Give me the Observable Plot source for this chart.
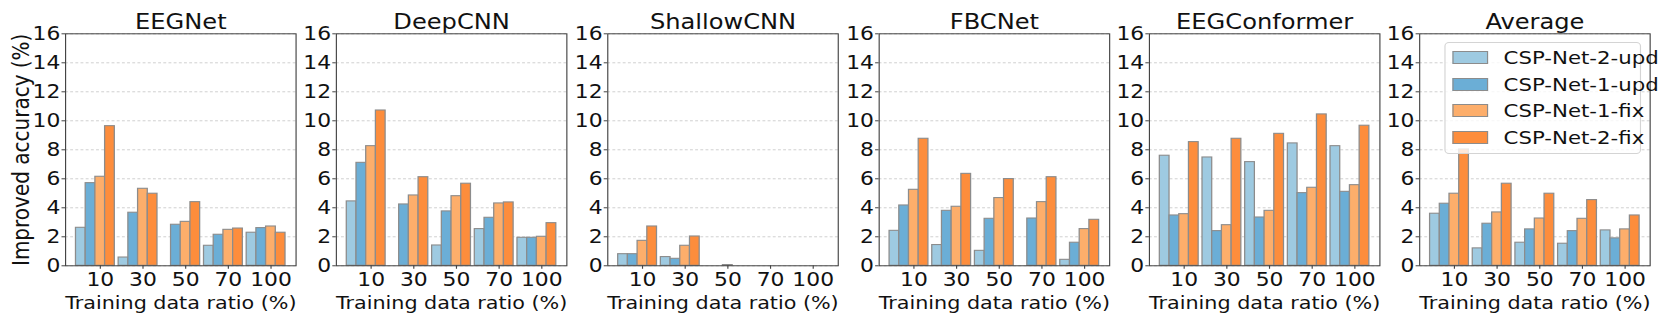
<!DOCTYPE html>
<html><head>
<meta charset="utf-8">
<script src="https://cdn.jsdelivr.net/npm/d3@7"></script>
<script src="https://cdn.jsdelivr.net/npm/@observablehq/plot@0.6"></script>
<style>
body{margin:0;background:#fff;overflow:hidden;}
#chart{position:relative;height:325px;font-family:"DejaVu Sans",sans-serif;transform-origin:0 0;}
#chart svg{position:absolute;top:0;}
.legend{position:absolute;background:rgba(255,255,255,0.8);border:1px solid #d4d4d4;border-radius:4px;box-sizing:border-box;font-family:"DejaVu Sans",sans-serif;font-size:18.5px;color:#111;}
.legend .row{position:absolute;left:0;height:22px;display:flex;align-items:center;white-space:nowrap;}
.legend .sw{height:13px;box-sizing:border-box;border:1.2px solid #8c8c8c;flex:none;}
</style></head><body><div id="chart"></div>
<script>
const ratios = ["10", "30", "50", "70", "100"];
const methods = ["CSP-Net-2-upd", "CSP-Net-1-upd", "CSP-Net-1-fix", "CSP-Net-2-fix"];
const colors = ["#9ecae1", "#6baed6", "#fdae6b", "#fd8d3c"];
const models = ["EEGNet", "DeepCNN", "ShallowCNN", "FBCNet", "EEGConformer", "Average"];
// values per model: one row per method, one column per ratio
const eegnet = [
  [2.62, 0.57, 0, 1.38, 2.28],
  [5.70, 3.66, 2.83, 2.14, 2.60],
  [6.14, 5.31, 3.03, 2.48, 2.71],
  [9.63, 4.97, 4.39, 2.57, 2.28]
];
const deepcnn = [
  [4.44, 0, 1.40, 2.53, 1.93],
  [7.10, 4.23, 3.75, 3.31, 1.93],
  [8.25, 4.85, 4.80, 4.30, 2.00],
  [10.71, 6.11, 5.66, 4.37, 2.94]
];
const shallowcnn = [
  [0.80, 0.60, 0, 0, 0],
  [0.80, 0.48, 0, 0, 0],
  [1.72, 1.38, 0.05, 0, 0],
  [2.71, 2.02, 0, 0, 0]
];
const fbcnet = [
  [2.41, 1.43, 1.03, 0, 0.41],
  [4.16, 3.79, 3.24, 3.26, 1.59],
  [5.24, 4.07, 4.67, 4.39, 2.53],
  [8.76, 6.34, 5.98, 6.11, 3.17]
];
const eegconformer = [
  [7.59, 7.47, 7.15, 8.44, 8.25],
  [3.47, 2.39, 3.33, 5.01, 5.10],
  [3.56, 2.80, 3.79, 5.38, 5.56],
  [8.53, 8.76, 9.10, 10.44, 9.66]
];
const average = [
  [3.59, 1.20, 1.59, 1.52, 2.44],
  [4.28, 2.90, 2.51, 2.39, 1.89],
  [4.97, 3.68, 3.26, 3.24, 2.51],
  [8.02, 5.66, 4.97, 4.53, 3.47]
];
const yTicks = [0, 2, 4, 6, 8, 10, 12, 14, 16];
const allValues = [eegnet, deepcnn, shallowcnn, fbcnet, eegconformer, average];

const S = 1.15;                         // horizontal stretch of the whole figure
const W = 0.2275;                       // bar width in group units
const span = 4 + 4 * W;
const m = 0.05 * span;
const xDomain = [-2.5 * W - m, 4 + 1.5 * W + m];

const chart = document.getElementById("chart");
chart.style.width = (1661 / S) + "px";
chart.style.transform = `scaleX(${S})`;
const plotLefts = [65, 336, 607.3, 878.3, 1149.3, 1419.5].map(v => v / S);
const plotW = 230.5 / S;

models.forEach((name, k) => {
  const vals = allValues[k];
  const rows = [];
  vals.forEach((series, si) => series.forEach((v, gi) => {
    if (v > 0) rows.push({si, gi, v, method: methods[si]});
  }));
  const ml = k === 0 ? plotLefts[0] : 42;
  const mr = 15;
  const marks = [
    Plot.gridY(yTicks, {stroke: "#c8c8c8", strokeOpacity: 1, strokeWidth: 0.8, strokeDasharray: "2.5,2"}),
    Plot.rect(rows, {
      x1: d => d.gi + (d.si - 2.5) * W,
      x2: d => d.gi + (d.si - 1.5) * W,
      y1: 0, y2: "v",
      fill: d => colors[d.si],
      stroke: "#8c8c8c", strokeWidth: 1.1
    }),
    Plot.frame({stroke: "#444", strokeWidth: 1}),
    Plot.axisY({ticks: yTicks, tickSize: 3.5 / S, tickPadding: 1.5, fontSize: 19, label: null, stroke: "#444", fill: "#111"}),
    Plot.axisX({ticks: [0, 1, 2, 3, 4], tickFormat: i => ratios[i], tickSize: 3.5, tickPadding: 3.5, fontSize: 19, label: null, stroke: "#444", fill: "#111"}),
    Plot.text([name], {frameAnchor: "top", dy: -12, lineAnchor: "middle", fontSize: 21, fill: "#111"}),
    Plot.text(["Training data ratio (%)"], {frameAnchor: "bottom", dy: 37, lineAnchor: "middle", fontSize: 18, fill: "#111"})
  ];
  if (k === 0) {
    marks.push(Plot.text(["Improved accuracy (%)"], {frameAnchor: "left", textAnchor: "middle", dx: -(65 - 21) / S, rotate: -90, lineAnchor: "middle", fontSize: 20, fill: "#111"}));
  }
  const svg = Plot.plot({
    width: ml + plotW + mr,
    height: 325,
    marginLeft: ml, marginRight: mr, marginTop: 33.3, marginBottom: 59.7,
    style: {background: "transparent", fontFamily: "DejaVu Sans", overflow: "visible", maxWidth: "none"},
    x: {type: "linear", domain: xDomain},
    y: {domain: [0, 16]},
    marks
  });
  svg.style.left = (plotLefts[k] - ml) + "px";
  chart.appendChild(svg);
});

// legend over the last panel
const leg = document.createElement("div");
leg.className = "legend";
Object.assign(leg.style, {left: (1444 / S) + "px", top: "42px", width: (197 / S) + "px", height: "112px"});
methods.forEach((mname, i) => {
  const row = document.createElement("div");
  row.className = "row";
  row.style.top = (3.5 + i * 26.7) + "px";
  const sw = document.createElement("div");
  sw.className = "sw";
  sw.style.background = colors[i];
  sw.style.width = (36.5 / S) + "px";
  sw.style.marginLeft = (7 / S) + "px";
  sw.style.marginRight = (15 / S) + "px";
  const t = document.createElement("span");
  t.textContent = mname;
  row.appendChild(sw); row.appendChild(t);
  leg.appendChild(row);
});
chart.appendChild(leg);
</script>
</body></html>
